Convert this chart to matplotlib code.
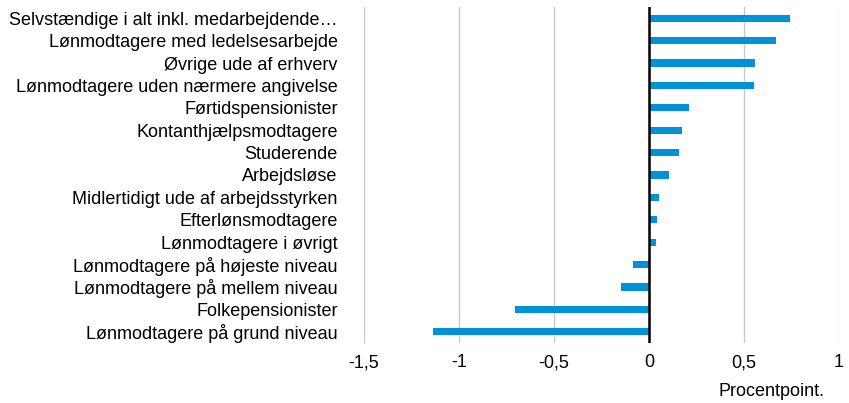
import matplotlib
matplotlib.use("Agg")
import matplotlib.pyplot as plt

categories = [
    "Selvstændige i alt inkl. medarbejdende…",
    "Lønmodtagere med ledelsesarbejde",
    "Øvrige ude af erhverv",
    "Lønmodtagere uden nærmere angivelse",
    "Førtidspensionister",
    "Kontanthjælpsmodtagere",
    "Studerende",
    "Arbejdsløse",
    "Midlertidigt ude af arbejdsstyrken",
    "Efterlønsmodtagere",
    "Lønmodtagere i øvrigt",
    "Lønmodtagere på højeste niveau",
    "Lønmodtagere på mellem niveau",
    "Folkepensionister",
    "Lønmodtagere på grund niveau",
]
values = [0.74, 0.67, 0.56, 0.55, 0.21, 0.175, 0.16, 0.105, 0.05, 0.044, 0.039,
          -0.084, -0.147, -0.707, -1.137]
xticks = [-1.5, -1, -0.5, 0, 0.5, 1]
xticklabels = ["-1,5", "-1", "-0,5", "0", "0,5", "1"]
xlabel = "Procentpoint."

plt.rcParams['font.family'] = ['Liberation Sans', 'DejaVu Sans']

fig = plt.figure(figsize=(8.49, 4.03), dpi=100)
ax = fig.add_axes([364/849, 1-343/403, 475/849, 336/403])

y = list(range(len(categories)))
ax.barh(y, values, height=0.32, color='#0092D6', zorder=3)
ax.set_ylim(len(categories)-0.5, -0.5)
ax.set_xlim(-1.5, 1)
ax.set_xticks(xticks)
ax.set_xticklabels(xticklabels, fontsize=13)
ax.set_yticks(y)
ax.set_yticklabels(categories, fontsize=13)
ax.tick_params(axis='y', length=0, pad=19)
ax.tick_params(axis='x', length=0, pad=8)
for s in ax.spines.values():
    s.set_visible(False)
ax.grid(axis='x', color='#c8c8c8', linewidth=1.0, zorder=0)
ax.axvline(0, color='black', linewidth=1.8, zorder=4)
ax.set_xlabel(xlabel, fontsize=13)
ax.xaxis.set_label_coords((772-364)/475, -(383-343)/336)

fig.savefig("out.png", dpi=100)
